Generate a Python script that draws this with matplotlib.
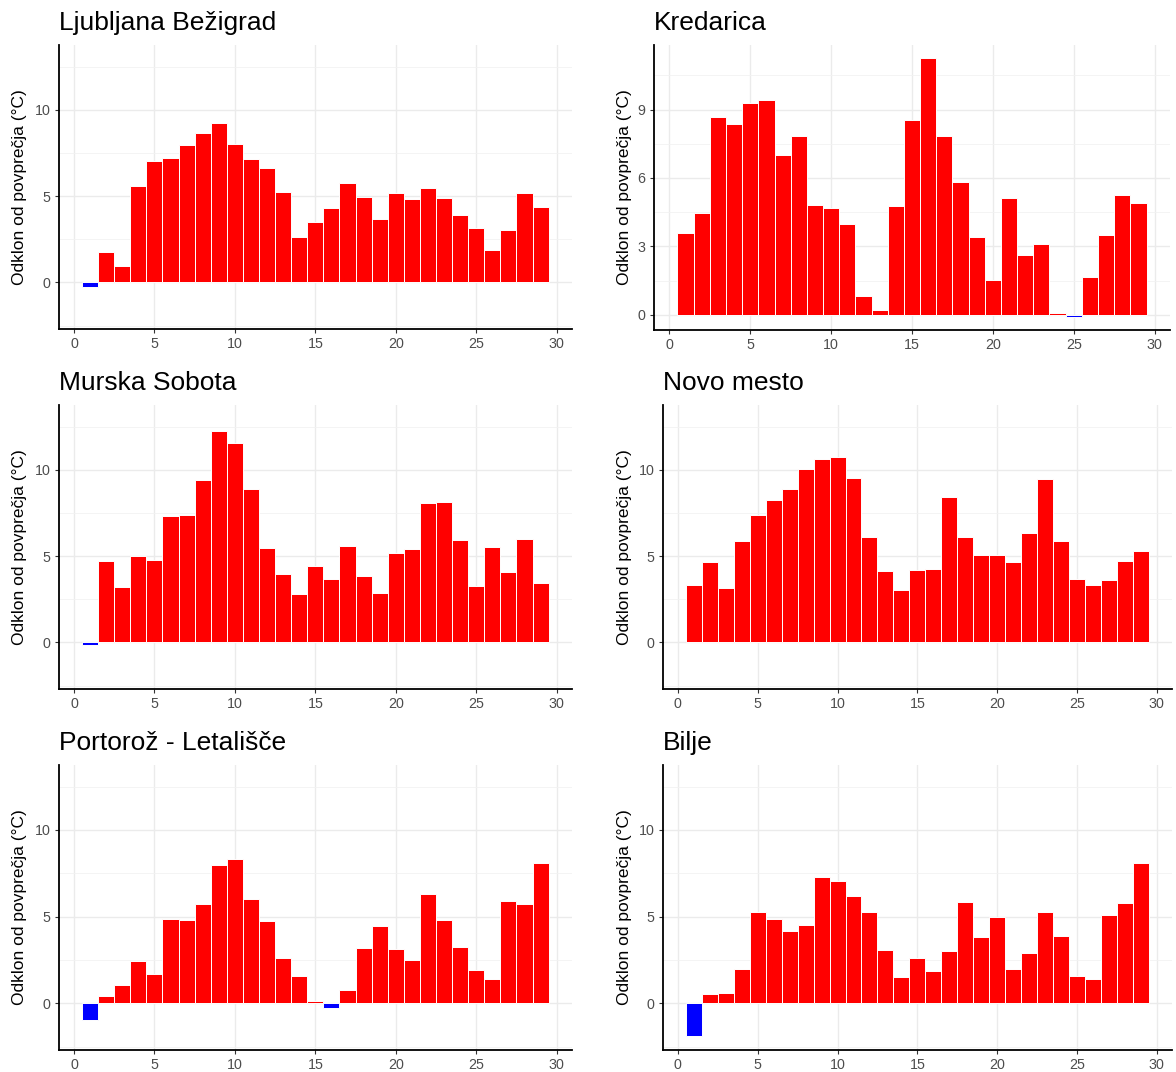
import numpy as np
import matplotlib
matplotlib.use("Agg")
import matplotlib.pyplot as plt
from matplotlib.ticker import MultipleLocator

plt.rcParams['font.family'] = ['Liberation Sans', 'DejaVu Sans']

days = list(range(1, 30))

ljubljana = [-0.25, 1.78, 0.97, 5.60, 7.05, 7.22, 7.93, 8.63, 9.23, 8.01,
             7.14, 6.64, 5.21, 2.63, 3.47, 4.31, 5.75, 4.92, 3.65, 5.15,
             4.85, 5.46, 4.86, 3.90, 3.15, 1.85, 3.03, 5.19, 4.34]
kredarica = [3.57, 4.44, 8.68, 8.36, 9.28, 9.42, 7.02, 7.83, 4.82, 4.67,
             3.99, 0.80, 0.19, 4.76, 8.52, 11.26, 7.86, 5.80, 3.41, 1.53,
             5.10, 2.61, 3.09, 0.07, -0.08, 1.67, 3.48, 5.26, 4.91]
murska_sobota = [-0.15, 4.69, 3.23, 5.02, 4.77, 7.33, 7.38, 9.42, 12.25, 11.56,
                 8.87, 5.44, 3.96, 2.79, 4.40, 3.67, 5.60, 3.87, 2.85, 5.17,
                 5.40, 8.10, 8.15, 5.94, 3.25, 5.50, 4.08, 5.96, 3.44]
novo_mesto = [3.35, 4.65, 3.15, 5.85, 7.40, 8.27, 8.88, 10.02, 10.60, 10.75,
              9.50, 6.13, 4.12, 3.02, 4.21, 4.27, 8.44, 6.10, 5.06, 5.06,
              4.67, 6.33, 9.48, 5.85, 3.65, 3.33, 3.60, 4.71, 5.29]
portoroz = [-0.94, 0.40, 1.06, 2.44, 1.71, 4.88, 4.79, 5.75, 7.96, 8.33,
            6.00, 4.77, 2.62, 1.60, 0.10, -0.29, 0.77, 3.17, 4.46, 3.15,
            2.50, 6.33, 4.79, 3.25, 1.94, 1.40, 5.90, 5.73, 8.08]
bilje = [-1.90, 0.56, 0.60, 2.00, 5.25, 4.87, 4.17, 4.54, 7.29, 7.04,
         6.21, 5.27, 3.08, 1.54, 2.62, 1.88, 3.04, 5.87, 3.83, 4.98,
         1.96, 2.92, 5.27, 3.90, 1.56, 1.42, 5.12, 5.81, 8.10]

stations = ["Ljubljana Bežigrad", "Kredarica", "Murska Sobota",
            "Novo mesto", "Portorož - Letališče", "Bilje"]
series = [ljubljana, kredarica, murska_sobota, novo_mesto, portoroz, bilje]

W, H = 1176, 1072
fig = plt.figure(figsize=(W / 100, H / 100), dpi=100)

# panel boxes in pixels: left, right, top, bottom
boxes = [(58.7, 572, 45, 329), (654, 1170, 45, 330),
         (58.7, 572, 405, 689), (662.7, 1172, 405, 689),
         (58.7, 572, 765, 1050), (662.7, 1172, 765, 1050)]

for i, (name, vals) in enumerate(zip(stations, series)):
    l, r, t, b = boxes[i]
    ax = fig.add_axes([l / W, 1 - b / H, (r - l) / W, (b - t) / H])
    vals = np.array(vals)
    colors = ['#0000FF' if v < 0 else '#FF0000' for v in vals]
    ax.bar(days, vals, width=1.0, color=colors, edgecolor='white',
           linewidth=0.7, zorder=3)

    ax.set_xlim(-0.95, 30.95)
    ax.xaxis.set_major_locator(MultipleLocator(5))
    if name == "Kredarica":
        ax.set_ylim(-0.67, 11.83)
        ax.yaxis.set_major_locator(MultipleLocator(3))
        ax.yaxis.set_minor_locator(MultipleLocator(1.5))
        lab_off = 30
    else:
        ax.set_ylim(-2.7, 13.75)
        ax.yaxis.set_major_locator(MultipleLocator(5))
        ax.yaxis.set_minor_locator(MultipleLocator(2.5))
        lab_off = 38.7

    ax.grid(True, which='major', color='#EBEBEB', linewidth=1.0, zorder=0)
    ax.grid(True, which='minor', axis='y', color='#F2F2F2', linewidth=0.6, zorder=0)
    ax.set_axisbelow(True)

    for s in ['top', 'right']:
        ax.spines[s].set_visible(False)
    for s in ['left', 'bottom']:
        ax.spines[s].set_color('black')
        ax.spines[s].set_linewidth(1.3)

    ax.tick_params(which='major', length=3, width=0.8, color='#333333',
                   labelcolor='#4D4D4D', labelsize=10.3, pad=3)
    ax.tick_params(which='minor', length=0)

    ax.set_title(name, loc='left', fontsize=19, pad=11, color='black')
    ax.set_ylabel("Odklon od povprečja (°C)", fontsize=12.5, va='center')
    ax.yaxis.set_label_coords(-lab_off / (r - l), 0.5)

fig.savefig("out.png", dpi=100, facecolor='white')
